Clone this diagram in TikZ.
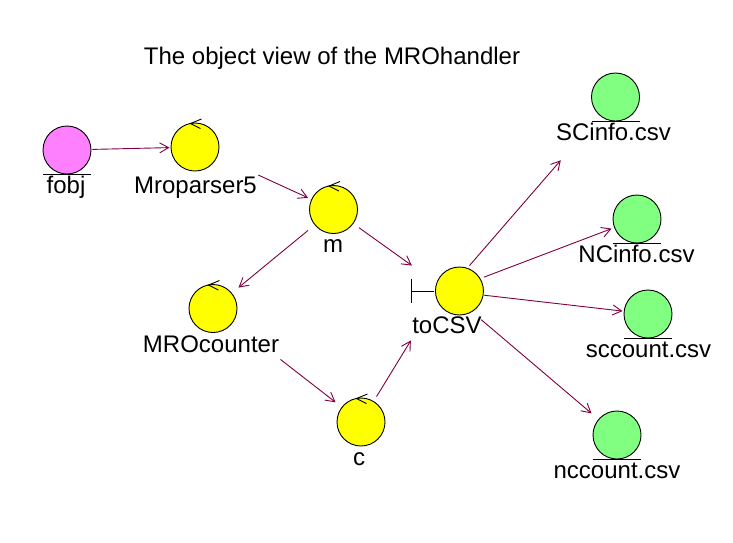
\documentclass[tikz,border=0pt]{standalone}
\usepackage{fontspec}
\setmainfont{Liberation Sans}
\usetikzlibrary{arrows.meta}
\definecolor{ctrlfill}{RGB}{255,255,0}
\definecolor{entgreen}{RGB}{128,255,128}
\definecolor{entpink}{RGB}{255,128,255}
\definecolor{linkred}{RGB}{128,0,64}
\begin{document}
\begin{tikzpicture}[x=1pt,y=-1pt,line width=0.9pt,
  obj/.style={rectangle,minimum width=50pt,minimum height=50pt,inner sep=0pt},
  bnd/.style={obj,minimum width=72pt},
  lbl/.style={anchor=base,inner sep=1pt,text depth=6pt,font=\fontsize{24}{28}\selectfont},
  link/.style={draw=linkred,-{Straight Barb[length=9pt,width=10pt]}}]
\useasboundingbox (0,0) rectangle (733,542);
\node[lbl] (title) at (332,64) {The object view of the MROhandler};
\node[obj] (fobj) at (67,150) {};
\node[obj] (mro) at (195,147) {};
\node[obj] (m) at (333.5,209.5) {};
\node[obj] (mroc) at (213,308.5) {};
\node[obj] (c) at (361,422) {};
\node[bnd] (tocsv) at (447.5,291) {};
\node[obj] (scinfo) at (615.5,97) {};
\node[obj] (ncinfo) at (637,219) {};
\node[obj] (sccount) at (648,314) {};
\node[obj] (nccount) at (617,435) {};
\foreach \n in {mro,m,mroc,c}{
  \draw[fill=ctrlfill] (\n) circle[radius=24];
  \draw ([shift={(6.5,-28)}]\n.center) -- ([shift={(-4.5,-23.5)}]\n.center) -- ([shift={(5.5,-18.5)}]\n.center);
}
\draw[fill=ctrlfill] ([shift={(-24.5,0)}]tocsv.east) circle[radius=24];
\draw ([shift={(0.5,-12)}]tocsv.west) -- ++(0,24) ([shift={(0.5,0)}]tocsv.west) -- ++(22.5,0);
\foreach \n/\col in {fobj/entpink,scinfo/entgreen,ncinfo/entgreen,sccount/entgreen,nccount/entgreen}{
  \draw[fill=\col] (\n) circle[radius=24];
  \draw ([shift={(-24,24)}]\n.center) -- ++(48,0);
}
\node[lbl] (fobjlbl) at (66,193) {fobj};
\node[lbl] (mrolbl) at (195.5,193) {Mroparser5};
\node[lbl] (mlbl) at (333,252) {m};
\node[lbl] (mroclbl) at (211,352) {MROcounter};
\node[lbl] (clbl) at (359,465) {c};
\node[lbl] (tocsvlbl) at (447,333) {toCSV};
\node[lbl] (scinfolbl) at (613.5,140) {SCinfo.csv};
\node[lbl] (ncinfolbl) at (636.5,262) {NCinfo.csv};
\node[lbl] (sccountlbl) at (648.5,357) {sccount.csv};
\node[lbl] (nccountlbl) at (617,478) {nccount.csv};
\draw[link] (fobj) -- (mro);
\draw[link] (mrolbl.north east) -- (m);
\draw[link] (m) -- (mroc);
\draw[link] (m) -- (tocsv);
\draw[link] (mroclbl.south east) -- (c);
\draw[link] (c) -- (tocsvlbl.south west);
\draw[link,shorten >=50pt] (tocsv) -- (scinfo);
\draw[link] (tocsv) -- (ncinfo);
\draw[link] (tocsv) -- (sccount);
\draw[link,shorten <=5pt] (tocsv) -- (nccount);
\end{tikzpicture}
\end{document}
